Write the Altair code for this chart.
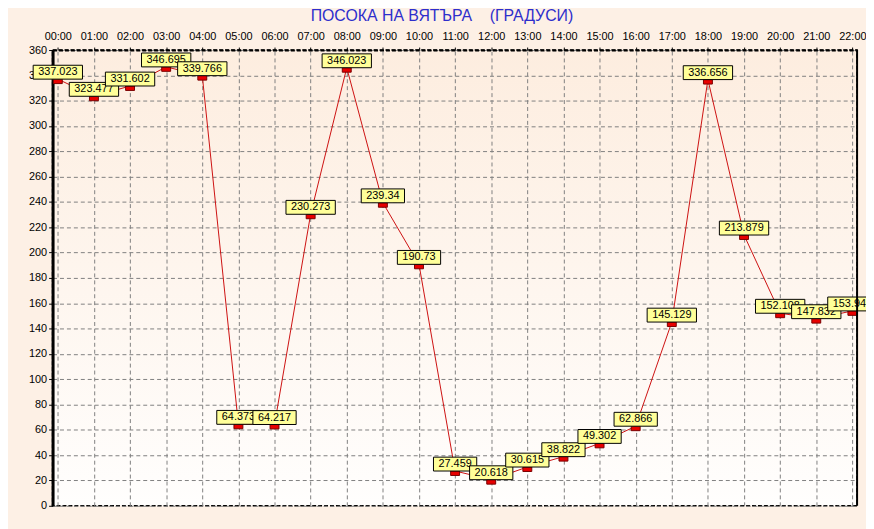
import altair as alt
import pandas as pd

times = ["00:00", "01:00", "02:00", "03:00", "04:00", "05:00", "06:00", "07:00",
         "08:00", "09:00", "10:00", "11:00", "12:00", "13:00", "14:00", "15:00",
         "16:00", "17:00", "18:00", "19:00", "20:00", "21:00", "22:00"]
values = [337.023, 323.477, 331.602, 346.695, 339.766, 64.373, 64.217, 230.273,
          346.023, 239.34, 190.73, 27.459, 20.618, 30.615, 38.822, 49.302,
          62.866, 145.129, 336.656, 213.879, 152.108, 147.832, 153.949]
labels = ["337.023", "323.477", "331.602", "346.695", "339.766", "64.373", "64.217", "230.273",
          "346.023", "239.34", "190.73", "27.459", "20.618", "30.615", "38.822", "49.302",
          "62.866", "145.129", "336.656", "213.879", "152.108", "147.832", "153.949"]
y_ticks = list(range(0, 361, 20))
title_text = "ПОСОКА НА ВЯТЪРА\u00a0\u00a0\u00a0\u00a0(ГРАДУСИ)"

df = pd.DataFrame({"idx": list(range(len(times))), "time": times, "val": values, "label": labels})

W, H = 812, 460
FONT = "Liberation Sans"

label_expr = "[" + ",".join("'%s'" % t for t in times) + "][datum.value]"

x_scale = alt.Scale(domain=[-0.145, 22.13], nice=False, zero=False)
y_scale = alt.Scale(domain=[0, 360], nice=False, zero=True)

x_axis = alt.Axis(orient="top", values=list(range(len(times))), labelExpr=label_expr, title=None,
                  grid=True, gridColor="#808080", gridDash=[4, 3], gridWidth=1,
                  domainColor="black", domainWidth=2, domainDash=[4, 2],
                  tickColor="black", tickSize=3, labelFont=FONT, labelFontSize=11,
                  labelColor="black", labelPadding=6, labelFlush=False, labelOverlap=False)
y_axis = alt.Axis(values=y_ticks, title=None, grid=True, gridColor="#808080", gridDash=[4, 3],
                  gridWidth=1, domainColor="black", domainWidth=3, tickColor="black", tickSize=4,
                  labelFont=FONT, labelFontSize=11, labelColor="black", labelPadding=2,
                  labelFlush=False, labelOverlap=False)

X = alt.X("idx:Q", scale=x_scale, axis=x_axis)
Y = alt.Y("val:Q", scale=y_scale, axis=y_axis)

base = alt.Chart(df)

line = base.mark_line(color="#CC1010", strokeWidth=1).encode(x=X, y=Y)

markers = base.mark_rect(fill="#E80000", stroke="#7A0000", strokeWidth=1,
                         xOffset=-4.5, x2Offset=4.5, yOffset=0, y2Offset=4.5).encode(
    x=X, x2=alt.X2("idx:Q"), y=Y, y2=alt.Y2("val:Q"))

label_layers = []
for i, lab in enumerate(labels):
    ndig = sum(c.isdigit() for c in lab)
    w = ndig * 6.12 + 3.06 + 10
    sub = base.transform_filter(alt.datum.idx == i)
    box = sub.mark_rect(fill="#FFFF99", stroke="black", strokeWidth=1,
                        xOffset=-w / 2, x2Offset=w / 2, yOffset=-14, y2Offset=0).encode(
        x=X, x2=alt.X2("idx:Q"), y=Y, y2=alt.Y2("val:Q"))
    txt = sub.mark_text(font=FONT, fontSize=11, color="black", align="center",
                        baseline="middle", dy=-7).encode(x=X, y=Y, text="label:N")
    label_layers += [box, txt]

right_border = alt.Chart(pd.DataFrame({"k": [0]})).mark_rule(color="black", strokeWidth=2).encode(
    x=alt.value(W), y=alt.value(0), y2=alt.value(H))

grad_expr = ("({gradient: 'linear', x1: 0, y1: 0, x2: 0, y2: 1, "
             "stops: [{offset: 0, color: '#FDEDDF'}, {offset: 1, color: '#FFFEFD'}]})")

chart = alt.layer(line, markers, *label_layers, right_border).properties(
    width=W, height=H,
    padding={"left": 45, "top": 40, "right": 9, "bottom": 21},
    autosize=alt.AutoSizeParams(type="none"),
    title=alt.TitleParams(text=title_text, font=FONT, fontSize=16, fontWeight="normal",
                          color="#2E2ECC", anchor="middle", dx=-13, offset=6),
).configure(background="#FDF0E5").configure_view(
    fill=alt.ExprRef(expr=grad_expr), stroke="black", strokeDash=[4, 2], strokeWidth=1.5)

chart.save("out.html", embed_options={"renderer": "svg", "actions": False})
